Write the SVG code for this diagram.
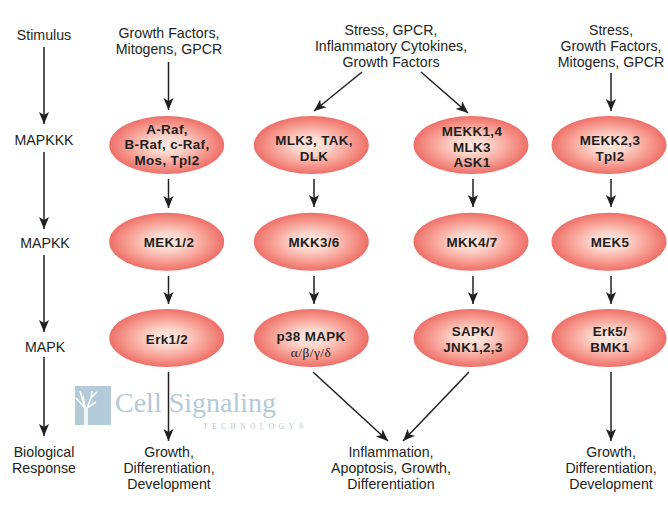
<svg xmlns="http://www.w3.org/2000/svg" width="668" height="506" viewBox="0 0 668 506">
<defs>
<radialGradient id="glow">
<stop offset="0" stop-color="#fdeae2"/>
<stop offset="0.3" stop-color="#fcd6cc"/>
<stop offset="0.65" stop-color="#f8a398"/>
<stop offset="1" stop-color="#ee6f68"/>
</radialGradient>
<marker id="head" markerUnits="userSpaceOnUse" markerWidth="12" markerHeight="12" refX="10" refY="5" orient="auto" viewBox="0 0 10 10">
<path d="M0 0.800 L10 5 L0 9.200 L2.500 5 Z" fill="#231f20"/>
</marker>
<g id="oval"><ellipse cx="0" cy="0" rx="57.5" ry="29" fill="url(#glow)"/></g>
</defs>
<style>
text{font-family:"Liberation Sans",Arial,sans-serif;fill:#231f20;text-anchor:middle}
.t{font-size:14.2px}
.n{font-size:13.4px;font-weight:700;letter-spacing:.35px}
.g{font-size:13.4px;font-family:"Liberation Serif",serif;letter-spacing:.5px}
.c line{stroke:#231f20;stroke-width:1.5;fill:none;marker-end:url(#head)}
.logo{fill:#b3cad9;font-family:"Liberation Serif",serif;text-anchor:start}
</style>

<!-- brand mark behind the arrows -->
<g id="logo">
<rect x="75" y="386" width="36" height="39" fill="#b3cad9"/>
<path d="M85 425 L85 408 L76 398 M85 408 L80 391 M85 408 L83 396 M87 408 L91 398 L92 391 M91 398 L97 392 M87 408 L96 402 M87 408 L87 425" stroke="#fff" stroke-width="1.600" fill="none"/>
<text class="logo" x="115" y="412" font-size="28">Cell Signaling</text>
<text class="logo" x="203" y="429" font-size="7.500" letter-spacing="4.400">TECHNOLOGY®</text>
</g>

<!-- connectors -->
<g id="connectors" class="c">
<line x1="44" y1="47" x2="44" y2="124"/>
<line x1="44" y1="152" x2="44" y2="229"/>
<line x1="44" y1="255" x2="44" y2="332"/>
<line x1="44" y1="357" x2="44" y2="436"/>
<line x1="168.500" y1="62" x2="168.500" y2="110"/>
<line x1="168.500" y1="179" x2="168.500" y2="208"/>
<line x1="168.500" y1="276" x2="168.500" y2="304"/>
<line x1="168.500" y1="372" x2="168.500" y2="441"/>
<line x1="362" y1="72" x2="314" y2="111"/>
<line x1="421" y1="72" x2="468" y2="113"/>
<line x1="314" y1="179" x2="314" y2="207"/>
<line x1="314" y1="276" x2="314" y2="304"/>
<line x1="473" y1="179" x2="473" y2="207"/>
<line x1="473" y1="276" x2="473" y2="304"/>
<line x1="313" y1="372" x2="388" y2="441"/>
<line x1="469" y1="372" x2="403" y2="441"/>
<line x1="611" y1="73" x2="611" y2="111"/>
<line x1="611" y1="179" x2="611" y2="207"/>
<line x1="611" y1="276" x2="611" y2="304"/>
<line x1="611" y1="372" x2="611" y2="441"/>
</g>

<!-- row labels -->
<g id="stage-labels" class="t">
<text x="44" y="39.500">Stimulus</text>
<text x="44" y="144.500">MAPKKK</text>
<text x="45" y="247.500">MAPKK</text>
<text x="45" y="351.500">MAPK</text>
<text x="44" y="456.500">Biological</text>
<text x="44" y="472.500">Response</text>
</g>

<!-- stimuli -->
<g id="stimuli" class="t">
<text x="169" y="37.500">Growth Factors,</text>
<text x="169" y="53.500">Mitogens, GPCR</text>
<text x="391" y="34.500">Stress, GPCR,</text>
<text x="391" y="50.500">Inflammatory Cytokines,</text>
<text x="391" y="66.500">Growth Factors</text>
<text x="611" y="34.500">Stress,</text>
<text x="611" y="50.500">Growth Factors,</text>
<text x="611" y="66.500">Mitogens, GPCR</text>
</g>

<!-- kinase nodes -->
<g id="raf"><use href="#oval" x="166.700" y="145"/><text class="n" x="167" y="133.500">A-Raf,</text><text class="n" x="167" y="149">B-Raf, c-Raf,</text><text class="n" x="167" y="164.500">Mos, Tpl2</text></g>
<g id="mek12"><use href="#oval" x="166.700" y="241.700"/><text class="n" x="169" y="247">MEK1/2</text></g>
<g id="erk12"><use href="#oval" x="166.700" y="338"/><text class="n" x="167" y="344">Erk1/2</text></g>
<g id="mlk3-tak"><use href="#oval" x="311.300" y="145"/><text class="n" x="314" y="145">MLK3, TAK,</text><text class="n" x="314" y="160.500">DLK</text></g>
<g id="mkk36"><use href="#oval" x="311.300" y="241.700"/><text class="n" x="314" y="247">MKK3/6</text></g>
<g id="p38"><use href="#oval" x="311.300" y="338"/><text class="n" x="311" y="341">p38 MAPK</text><text class="g" x="311" y="356.500">α/β/γ/δ</text></g>
<g id="mekk14"><use href="#oval" x="471" y="145"/><text class="n" x="472" y="136">MEKK1,4</text><text class="n" x="472" y="151.500">MLK3</text><text class="n" x="472" y="167">ASK1</text></g>
<g id="mkk47"><use href="#oval" x="471" y="241.700"/><text class="n" x="472" y="247">MKK4/7</text></g>
<g id="sapk"><use href="#oval" x="471" y="338"/><text class="n" x="473" y="336">SAPK/</text><text class="n" x="473" y="351.500">JNK1,2,3</text></g>
<g id="mekk23"><use href="#oval" x="609" y="145"/><text class="n" x="610" y="145">MEKK2,3</text><text class="n" x="610" y="160.500">Tpl2</text></g>
<g id="mek5"><use href="#oval" x="609" y="241.700"/><text class="n" x="610" y="247">MEK5</text></g>
<g id="erk5"><use href="#oval" x="609" y="338"/><text class="n" x="610" y="336">Erk5/</text><text class="n" x="610" y="351.500">BMK1</text></g>

<!-- responses -->
<g id="responses" class="t">
<text x="169" y="456.500">Growth,</text>
<text x="169" y="472.500">Differentiation,</text>
<text x="169" y="488.500">Development</text>
<text x="391" y="456.500">Inflammation,</text>
<text x="391" y="472.500">Apoptosis, Growth,</text>
<text x="391" y="488.500">Differentiation</text>
<text x="611" y="456.500">Growth,</text>
<text x="611" y="472.500">Differentiation,</text>
<text x="611" y="488.500">Development</text>
</g>
</svg>
